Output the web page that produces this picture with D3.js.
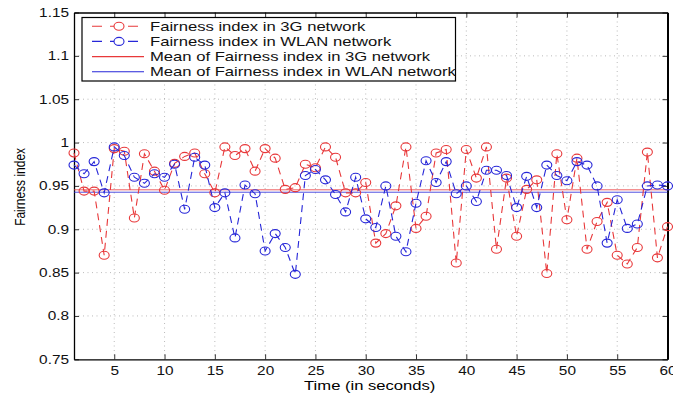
<!DOCTYPE html>
<html>
<head>
<meta charset="utf-8">
<script src="https://cdn.jsdelivr.net/npm/d3@7"></script>
<style>
  body { margin: 0; background: #fff; }
  text { font-family: "Liberation Sans", Arial, sans-serif; }
</style>
</head>
<body>
<div id="chart"></div>
<script>
const width = 673
const height = 395

// seconds 1..60
const seconds = d3.range(1, 61)

const fairness3G = [
  0.988, 0.944, 0.944, 0.870, 0.993, 0.990, 0.913, 0.987, 0.967, 0.945,
  0.976, 0.984, 0.988, 0.964, 0.942, 0.995, 0.985, 0.993, 0.967, 0.993,
  0.982, 0.946, 0.948, 0.975, 0.971, 0.995, 0.983, 0.942, 0.942, 0.954,
  0.884, 0.895, 0.927, 0.995, 0.901, 0.915, 0.988, 0.992, 0.861, 0.992,
  0.959, 0.995, 0.877, 0.959, 0.892, 0.946, 0.957, 0.849, 0.987, 0.911,
  0.982, 0.877, 0.909, 0.931, 0.870, 0.860, 0.879, 0.989, 0.867, 0.903
]

const fairnessWLAN = [
  0.974, 0.964, 0.978, 0.942, 0.995, 0.985, 0.960, 0.953, 0.964, 0.960,
  0.975, 0.923, 0.983, 0.974, 0.925, 0.942, 0.890, 0.951, 0.941, 0.875,
  0.895, 0.879, 0.848, 0.962, 0.969, 0.957, 0.940, 0.920, 0.960, 0.912,
  0.902, 0.950, 0.892, 0.874, 0.930, 0.979, 0.954, 0.978, 0.941, 0.950,
  0.932, 0.968, 0.968, 0.962, 0.925, 0.961, 0.925, 0.974, 0.962, 0.956,
  0.978, 0.974, 0.950, 0.884, 0.934, 0.901, 0.906, 0.950, 0.951, 0.950
]

// mean lines
const mean3G = 0.9455
const meanWLAN = 0.9427

const xTicks = [5, 10, 15, 20, 25, 30, 35, 40, 45, 50, 55, 60]
const yTicks = [0.75, 0.8, 0.85, 0.9, 0.95, 1, 1.05, 1.1, 1.15]

const legendLabels = [
  "Fairness index in 3G network",
  "Fairness index in WLAN network",
  "Mean of Fairness index in 3G network",
  "Mean of Fairness index in WLAN network"
]

const red = "#e8383a"
const blue = "#2626d8"
// the original picture is stretched sideways, text too
const stretch = 1.23
const stretchBig = 1.28

const margin = {top: 12.5, right: 5.5, bottom: 35.7, left: 74}
const plotW = width - margin.left - margin.right
const plotH = height - margin.top - margin.bottom

const x = d3.scaleLinear().domain([1, 60]).range([0, plotW])
const y = d3.scaleLinear().domain([0.75, 1.15]).range([plotH, 0])

const svg = d3.select("#chart")
  .append("svg")
  .attr("width", width)
  .attr("height", height)

const g = svg.append("g")
  .attr("transform", `translate(${margin.left},${margin.top})`)

// dotted grid
g.append("g").selectAll("line")
  .data(xTicks.filter(t => t < 60))
  .join("line")
    .attr("x1", d => x(d)).attr("x2", d => x(d))
    .attr("y1", 0).attr("y2", plotH)
    .attr("stroke", "#aaa")
    .attr("stroke-width", 0.8)
    .attr("stroke-dasharray", "1,3.5")

g.append("g").selectAll("line")
  .data(yTicks.filter(t => t > 0.75 && t < 1.15))
  .join("line")
    .attr("x1", 0).attr("x2", plotW)
    .attr("y1", d => y(d)).attr("y2", d => y(d))
    .attr("stroke", "#aaa")
    .attr("stroke-width", 0.8)
    .attr("stroke-dasharray", "1,3.5")

// axes (ticks inward, matlab style)
const xAxis = g.append("g")
  .attr("transform", `translate(0,${plotH})`)
  .call(d3.axisBottom(x).tickValues(xTicks).tickSizeInner(-5).tickSizeOuter(0).tickPadding(6.5).tickFormat(d3.format("d")))
const xTop = g.append("g")
  .call(d3.axisTop(x).tickValues(xTicks).tickSizeInner(-5).tickSizeOuter(0).tickFormat(""))
const yAxis = g.append("g")
  .call(d3.axisLeft(y).tickValues(yTicks).tickSizeInner(-5).tickSizeOuter(0).tickPadding(0).tickFormat(d => d3.format("")(+d.toFixed(2))))
const yRight = g.append("g")
  .attr("transform", `translate(${plotW},0)`)
  .call(d3.axisRight(y).tickValues(yTicks).tickSizeInner(-5).tickSizeOuter(0).tickFormat(""))

;[xAxis, xTop, yAxis, yRight].forEach(a => {
  a.select(".domain").attr("stroke", "#000").attr("stroke-width", 1.3)
  a.selectAll(".tick line").attr("stroke", "#000").attr("stroke-width", 0.8)
  a.selectAll("text").attr("font-size", "12.5px").attr("fill", "#111")
})
yRight.select(".domain").attr("stroke-width", 2)
xAxis.selectAll("text").attr("transform", `scale(${stretch},1)`)
yAxis.selectAll("text").attr("x", -5 / stretch).attr("transform", `scale(${stretch},1)`)

// series
const line = d3.line()
  .x((d, i) => x(seconds[i]))
  .y(d => y(d))

const series = [
  {values: fairness3G, color: red},
  {values: fairnessWLAN, color: blue}
]

// mean lines
g.append("line")
  .attr("x1", 0).attr("x2", plotW)
  .attr("y1", y(mean3G)).attr("y2", y(mean3G))
  .attr("stroke", red).attr("stroke-width", 0.8)
g.append("line")
  .attr("x1", 0).attr("x2", plotW)
  .attr("y1", y(meanWLAN)).attr("y2", y(meanWLAN))
  .attr("stroke", blue).attr("stroke-width", 0.8)

series.forEach(s => {
  g.append("path")
    .datum(s.values)
    .attr("d", line)
    .attr("fill", "none")
    .attr("stroke", s.color)
    .attr("stroke-width", 1.1)
    .attr("stroke-dasharray", "7,5")

  g.append("g").selectAll("ellipse")
    .data(s.values)
    .join("ellipse")
      .attr("cx", (d, i) => x(seconds[i]))
      .attr("cy", d => y(d))
      .attr("rx", 5)
      .attr("ry", 4)
      .attr("fill", "none")
      .attr("stroke", s.color)
      .attr("stroke-width", 1.1)
})

// legend
const legend = svg.append("g").attr("transform", "translate(82,17.5)")
legend.append("rect")
  .attr("width", 373.5).attr("height", 63.5)
  .attr("fill", "#fff").attr("stroke", "#000").attr("stroke-width", 1.2)

legendLabels.forEach((label, i) => {
  const ly = 8.7 + i * 15.2
  const color = i % 2 === 0 ? red : blue
  const row = legend.append("g").attr("transform", `translate(0,${ly})`)
  row.append("line")
    .attr("x1", 10).attr("x2", 62)
    .attr("stroke", color).attr("stroke-width", 1.1)
    .attr("stroke-dasharray", i < 2 ? "10,8" : null)
  if (i < 2) {
    row.append("ellipse")
      .attr("cx", 37).attr("cy", 0).attr("rx", 5).attr("ry", 4)
      .attr("fill", "#fff").attr("stroke", color).attr("stroke-width", 1.1)
  }
  row.append("text")
    .attr("transform", `translate(68,4.6) scale(${stretchBig},1)`)
    .attr("font-size", "13px")
    .attr("fill", "#111")
    .text(label)
})

// axis titles
svg.append("text")
  .attr("transform", `translate(${margin.left + plotW / 2 - 1},389.5) scale(1.33,1)`)
  .attr("text-anchor", "middle")
  .attr("font-size", "12.5px")
  .text("Time (in seconds)")

svg.append("text")
  .attr("transform", `translate(24.5,${margin.top + plotH / 2 + 1}) scale(${stretch},1) rotate(-90)`)
  .attr("text-anchor", "middle")
  .attr("font-size", "12px")
  .text("Fairness index")
</script>
</body>
</html>
